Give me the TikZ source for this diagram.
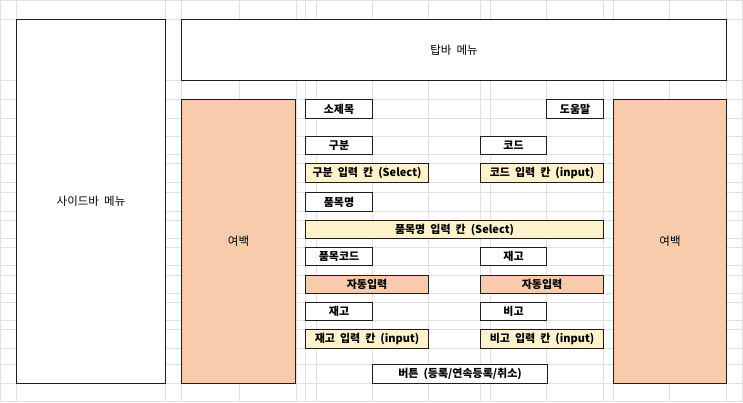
\documentclass[tikz,border=0pt]{standalone}
\usepackage{fontspec}
\setmainfont{Noto Sans CJK KR}[WordSpace=2]
\definecolor{cgrid}{HTML}{E0E0E0}
\definecolor{cline}{HTML}{1E1E1E}
\definecolor{cpeach}{HTML}{F8CBAD}
\definecolor{cinput}{HTML}{FFF2CC}

\begin{document}
\begin{tikzpicture}[x=1pt, y=-1pt, font=\fontsize{11.5}{13}\selectfont,
  gridline/.style={cgrid, line width=0.9pt},
  sz/.style 2 args={minimum width=#1pt, minimum height=#2pt},
  area/.style={draw=cline, line width=1.1pt, fill=white, anchor=north west, inner sep=0pt},
  lbl/.style={area, font=\fontsize{11}{13}\selectfont\bfseries},
  entry/.style={lbl, fill=cinput},
  auto/.style={lbl, fill=cpeach}]
\useasboundingbox (0,0) rectangle (743,402);
%% sheet grid
\foreach \gx in {0,16,165,181,239,296,305,316,372,428,480,490,546,603,613,669,726,742}
  \draw[gridline] (\gx,0) -- (\gx,402);
\foreach \gy in {0,19,80,99,118,136,154,163,182,192,211,220,238,247,265,275,293,302,320,329,348,364,383,401}
  \draw[gridline] (0,\gy) -- (743,\gy);
%% frame
\node[area, sz={149}{364}] (side) at (16,19) {사이드바 메뉴};
\node[area, sz={545}{61}] (topbar) at (181,19) {탑바 메뉴};
\node[area, fill=cpeach, sz={114}{284}] (padL) at (181,99) {여백};
\node[area, fill=cpeach, sz={113}{284}] (padR) at (613,99) {여백};
%% form
\node[lbl, sz={67}{19}] (title) at (305,99) {소제목};
\node[lbl, sz={57}{19}] (help) at (546,99) {도움말};
\node[lbl, sz={67}{18}] (cat) at (305,136) {구분};
\node[lbl, sz={66}{18}] (code) at (480,136) {코드};
\node[entry, sz={123}{19}] (catIn) at (305,163) {구분 입력 칸 (Select)};
\node[entry, sz={123}{19}] (codeIn) at (480,163) {코드 입력 칸 (input)};
\node[lbl, sz={67}{19}] (name) at (305,192) {품목명};
\node[entry, sz={298}{18}] (nameIn) at (305,220) {품목명 입력 칸 (Select)};
\node[lbl, sz={67}{18}] (itemCode) at (305,247) {품목코드};
\node[lbl, sz={66}{18}] (stockR) at (480,247) {재고};
\node[auto, sz={123}{18}] (autoL) at (305,275) {자동입력};
\node[auto, sz={123}{18}] (autoR) at (480,275) {자동입력};
\node[lbl, sz={67}{18}] (stock) at (305,302) {재고};
\node[lbl, sz={66}{18}] (memo) at (480,302) {비고};
\node[entry, sz={123}{19}] (stockIn) at (305,329) {재고 입력 칸 (input)};
\node[entry, sz={123}{19}] (memoIn) at (480,329) {비고 입력 칸 (input)};
\node[lbl, sz={175}{19}] (btn) at (372,364) {버튼 (등록/연속등록/취소)};
\end{tikzpicture}
\end{document}
